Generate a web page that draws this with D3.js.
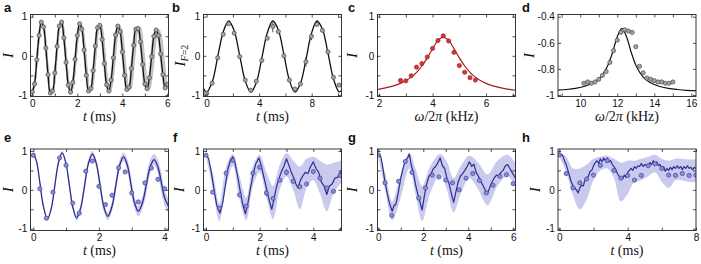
<!DOCTYPE html>
<html><head><meta charset="utf-8">
<script src="https://cdn.jsdelivr.net/npm/d3@7"></script>
<style>body{margin:0;background:#fff}</style>
</head><body>
<svg id="c" width="701" height="264"></svg>
<script>
// ---------------- DATA ----------------
// a: Ramsey-like oscillation (gray points, black line)
const aT=[0,0.1,0.2,0.3,0.4,0.5,0.6,0.7,0.8,0.9,1.0,1.1,1.2,1.3,1.4,1.5,1.6,1.7,1.8,1.9,2.0,2.1,2.2,2.3,2.4,2.5,2.6,2.7,2.8,2.9,3.0,3.1,3.2,3.3,3.4,3.5,3.6,3.7,3.8,3.9,4.0,4.1,4.2,4.3,4.4,4.5,4.6,4.7,4.8,4.9,5.0,5.1,5.2,5.3,5.4,5.5,5.6,5.7,5.8,5.9,6.0];
const aI=[-0.92,-0.72,-0.10,0.52,0.86,0.74,0.20,-0.48,-0.95,-0.90,-0.44,0.24,0.76,0.86,0.46,-0.17,-0.75,-0.93,-0.68,-0.09,0.52,0.82,0.68,0.15,-0.50,-0.90,-0.84,-0.38,0.25,0.72,0.78,0.42,-0.20,-0.74,-0.90,-0.62,-0.05,0.53,0.76,0.62,0.10,-0.50,-0.86,-0.80,-0.32,0.27,0.68,0.70,0.36,-0.22,-0.72,-0.84,-0.56,-0.02,0.50,0.66,0.52,0.05,-0.48,-0.82,-0.73];
const aSpread=[-0.004,0.004,0.008,0.012,0.016,0.02];
// b
const bT=[0,0.42,0.84,1.26,1.68,2.10,2.52,2.94,3.36,3.78,4.20,4.62,5.04,5.46,5.88,6.30,6.72,7.14,7.56,7.98,8.40,8.82,9.24,9.66,10.08];
const bI=[-0.96,-0.70,-0.05,0.55,0.82,0.58,-0.02,-0.62,-0.88,-0.65,-0.12,0.45,0.75,0.62,0.0,-0.62,-0.85,-0.72,-0.15,0.50,0.80,0.65,0.10,-0.55,-0.75];
const bErr=[0,0,0,0,0,0,0,0,0,0,0,0,0.15,0,0,0,0,0,0.12,0.1,0,0,0,0,0];
const bLineT=[-0.24,0,0.42,0.84,1.26,1.68,2.10,2.52,2.94,3.36,3.78,4.20,4.62,5.04,5.46,5.88,6.30,6.72,7.14,7.56,7.98,8.40,8.82,9.24,9.66,10.08,10.27];
const bLineI=[-0.84,-0.93,-0.67,-0.03,0.61,0.89,0.64,0.0,-0.64,-0.93,-0.69,-0.06,0.59,0.89,0.66,0.04,-0.62,-0.93,-0.71,-0.10,0.57,0.89,0.68,0.07,-0.59,-0.92,-0.89];
// c
const cW=[2.8,3.0,3.2,3.4,3.6,3.8,4.0,4.2,4.4,4.6,4.8,5.0,5.2,5.4,5.6];
const cI=[-0.63,-0.64,-0.51,-0.29,-0.20,-0.03,0.19,0.39,0.51,0.38,0.09,-0.25,-0.42,-0.56,-0.62];
const cLineW=[1.94,2.0,2.2,2.4,2.6,2.8,3.0,3.2,3.4,3.6,3.8,4.0,4.2,4.4,4.6,4.8,5.0,5.2,5.4,5.6,5.8,6.0,6.2,6.4,6.6,6.8,7.0,7.1];
const cLineI=[-0.86,-0.852,-0.827,-0.796,-0.756,-0.704,-0.636,-0.545,-0.422,-0.26,-0.053,0.184,0.393,0.48,0.393,0.184,-0.053,-0.26,-0.422,-0.545,-0.636,-0.704,-0.756,-0.796,-0.827,-0.852,-0.872,-0.881];
// d
const dW=[10.2,10.4,10.6,10.8,11.0,11.2,11.4,11.6,11.8,12.0,12.2,12.4,12.6,12.8,13.0,13.2,13.4,13.6,13.8,14.0,14.2,14.4,14.6,14.8,15.0];
const dI=[-0.91,-0.90,-0.91,-0.90,-0.88,-0.85,-0.82,-0.75,-0.66,-0.58,-0.52,-0.50,-0.51,-0.52,-0.63,-0.78,-0.83,-0.87,-0.88,-0.89,-0.90,-0.90,-0.91,-0.91,-0.90];
const dLineW=[8.8,9.25,9.75,10.25,10.75,11.0,11.25,11.5,11.75,12.0,12.25,12.5,12.75,13.0,13.25,13.5,13.75,14.25,14.75,15.25,15.75,16.25];
const dLineI=[-0.963,-0.958,-0.949,-0.933,-0.903,-0.876,-0.835,-0.770,-0.672,-0.553,-0.49,-0.553,-0.672,-0.770,-0.835,-0.876,-0.903,-0.933,-0.949,-0.958,-0.964,-0.967];
// e
const eT=[0,0.2,0.4,0.6,0.8,1.0,1.2,1.4,1.6,1.8,2.0,2.2,2.4,2.6,2.8,3.0,3.2,3.4,3.6,3.8,4.0];
const eI=[0.89,0.03,-0.73,-0.06,0.82,0.63,-0.34,-0.60,0.48,0.74,0.09,-0.38,-0.14,0.57,0.46,-0.08,-0.31,0.18,0.56,0.27,0.03];
const eLineT=[0,0.1,0.2,0.3,0.43,0.55,0.65,0.77,0.88,1.0,1.1,1.2,1.32,1.44,1.55,1.68,1.8,1.92,2.03,2.15,2.27,2.4,2.5,2.63,2.75,2.87,2.97,3.08,3.2,3.33,3.44,3.56,3.68,3.8,3.9,4.0,4.12];
const eLineI=[0.95,0.73,0.19,-0.39,-0.75,-0.47,0.07,0.71,0.95,0.66,0.115,-0.43,-0.72,-0.48,0.04,0.68,0.92,0.68,0.15,-0.44,-0.68,-0.42,0.035,0.63,0.85,0.62,0.17,-0.32,-0.55,-0.32,0.115,0.59,0.78,0.58,0.2,-0.2,-0.42];
const eBand=[0.02,0.03,0.05,0.04,0.04,0.05,0.08,0.06,0.05,0.07,0.10,0.08,0.07,0.09,0.13,0.10,0.08,0.11,0.16,0.12,0.10,0.13,0.18,0.14,0.11,0.15,0.21,0.15,0.13,0.16,0.23,0.17,0.14,0.18,0.26,0.19,0.19];
// f
const fT=[0,0.25,0.5,0.75,1.0,1.25,1.5,1.75,2.0,2.25,2.5,2.75,3.0,3.25,3.5,3.75,4.0,4.25,4.5,4.75,5.0];
const fI=[0.89,-0.06,-0.47,0.43,0.76,-0.13,-0.42,0.43,0.58,-0.08,-0.22,0.25,0.45,0.22,0.08,0.15,0.47,0.30,0.05,-0.04,0.37];
const fErr=[0,0,0,0,0,0,0,0,0,0.08,0,0,0.08,0,0,0,0,0,0,0,0];
const fLineT=[0,0.1,0.2,0.3,0.4,0.52,0.62,0.72,0.82,0.92,1.0,1.08,1.18,1.28,1.38,1.47,1.56,1.66,1.76,1.86,1.97,2.05,2.15,2.25,2.35,2.45,2.53,2.62,2.7,2.8,2.9,3.0,3.08,3.18,3.28,3.35,3.43,3.52,3.6,3.7,3.8,3.9,4.0,4.1,4.2,4.3,4.4,4.5,4.6,4.7,4.8,4.9,5.0,5.07];
const fLineI=[0.93,0.8,0.45,0.0,-0.4,-0.6,-0.35,0.1,0.55,0.78,0.85,0.7,0.35,-0.05,-0.4,-0.62,-0.35,0.05,0.42,0.68,0.82,0.65,0.35,0.05,-0.25,-0.5,-0.25,0.05,0.25,0.45,0.6,0.8,0.65,0.45,0.3,0.15,0.05,0.25,0.35,0.45,0.42,0.6,0.72,0.55,0.45,0.2,0.1,-0.12,0.1,0.15,0.3,0.32,0.45,0.5];
const fBandT=[0,0.25,0.5,0.75,1.0,1.25,1.5,1.75,2.0,2.25,2.5,2.75,3.0,3.25,3.5,3.75,4.0,4.25,4.5,4.75,5.0,5.07];
const fBandLo=[0.86,0.05,-0.8,0.1,0.62,-0.25,-0.78,0.1,0.45,-0.2,-0.75,0.0,0.35,0.0,-0.5,0.05,0.25,-0.1,-0.55,-0.1,0.15,0.2];
const fBandHi=[0.97,0.45,-0.35,0.6,0.92,0.35,-0.2,0.62,0.9,0.45,0.1,0.65,0.95,0.75,0.6,0.8,0.85,0.75,0.65,0.7,0.75,0.78];
// g
const gT=[0,0.3,0.6,0.9,1.2,1.5,1.8,2.1,2.4,2.7,3.0,3.3,3.6,3.9,4.2,4.5,4.8,5.1,5.4,5.7,6.0];
const gI=[0.90,0.18,-0.66,0.22,0.73,0.45,-0.21,0.05,0.38,0.33,0.25,0.18,0.0,0.30,0.42,0.24,-0.08,0.12,0.35,0.39,0.16];
const gLineT=[0,0.1,0.18,0.3,0.4,0.5,0.62,0.7,0.78,0.88,1.0,1.12,1.22,1.3,1.38,1.48,1.56,1.65,1.75,1.85,1.95,2.05,2.15,2.25,2.35,2.45,2.55,2.65,2.75,2.85,2.95,3.05,3.15,3.25,3.35,3.45,3.55,3.65,3.75,3.85,3.95,4.05,4.15,4.25,4.35,4.45,4.55,4.65,4.75,4.85,4.95,5.05,5.15,5.25,5.35,5.45,5.55,5.65,5.75,5.85,5.95,6.05,6.1];
const gLineI=[0.93,0.88,0.65,0.2,-0.1,-0.35,-0.55,-0.4,-0.38,-0.1,0.3,0.6,0.75,0.82,0.92,0.6,0.45,0.15,-0.1,-0.3,-0.52,-0.15,0.15,0.35,0.42,0.55,0.6,0.7,0.82,0.62,0.55,0.3,0.15,-0.1,-0.32,-0.05,0.2,0.35,0.42,0.5,0.6,0.72,0.6,0.66,0.45,0.35,0.22,0.12,0.0,-0.1,0.05,0.2,0.3,0.38,0.35,0.45,0.5,0.62,0.65,0.55,0.45,0.35,0.3];
const gBandT=[0,0.3,0.62,0.95,1.38,1.65,1.95,2.3,2.75,3.05,3.35,3.7,4.05,4.45,4.85,5.3,5.75,6.1];
const gBandLo=[0.87,0.0,-0.78,-0.3,0.55,-0.1,-0.8,-0.1,0.4,0.0,-0.58,-0.05,0.3,0.0,-0.4,0.1,0.35,0.05];
const gBandHi=[0.97,0.45,-0.3,0.3,0.95,0.55,0.1,0.6,0.92,0.72,0.3,0.65,0.88,0.7,0.4,0.75,0.9,0.68];
// h
const hT=[0,0.4,0.8,1.2,1.6,2.0,2.4,2.8,3.2,3.6,4.0,4.4,4.8,5.2,5.6,6.0,6.4,6.8,7.2,7.6,8.0];
const hI=[0.90,0.42,0.05,0.18,0.28,0.38,0.63,0.75,0.50,0.30,0.37,0.25,0.37,0.62,0.67,0.55,0.38,0.37,0.42,0.37,0.38];
const hLineT=[0,0.1,0.2,0.3,0.4,0.5,0.6,0.7,0.8,0.9,1.0,1.1,1.2,1.3,1.4,1.5,1.6,1.7,1.8,1.9,2.0,2.1,2.2,2.3,2.4,2.5,2.6,2.7,2.8,2.9,3.0,3.1,3.2,3.3,3.4,3.5,3.6,3.7,3.8,3.9,4.0,4.1,4.2,4.3,4.4,4.5,4.6,4.7,4.8,4.9,5.0,5.2,5.3,5.4,5.5,5.6,5.7,5.8,5.9,6.0,6.1,6.2,6.3,6.4,6.5,6.6,6.7,6.8,6.9,7.0,7.1,7.2,7.3,7.4,7.5,7.6,7.7,7.8,7.9,8.0];
const hLineI=[0.95,0.9,0.88,0.75,0.65,0.5,0.35,0.2,0.1,0.05,0.0,-0.08,0.05,0.12,0.1,0.25,0.3,0.35,0.48,0.5,0.62,0.7,0.75,0.68,0.8,0.72,0.82,0.75,0.82,0.72,0.75,0.65,0.6,0.52,0.42,0.35,0.3,0.28,0.38,0.32,0.45,0.5,0.55,0.5,0.6,0.55,0.62,0.6,0.68,0.6,0.65,0.62,0.7,0.65,0.75,0.68,0.72,0.62,0.65,0.55,0.6,0.48,0.55,0.5,0.58,0.52,0.6,0.55,0.62,0.55,0.6,0.52,0.6,0.55,0.62,0.55,0.58,0.52,0.58,0.55];
const hBandT=[0,0.4,0.8,1.2,1.6,2.0,2.4,2.8,3.2,3.6,4.0,4.4,4.8,5.2,5.6,6.0,6.4,6.8,7.2,7.6,8.0];
const hBandLo=[0.85,0.45,-0.15,-0.5,-0.25,0.25,0.5,0.55,0.3,-0.3,-0.1,0.2,0.25,0.35,0.45,0.2,0.05,0.25,0.25,0.2,0.2];
const hBandHi=[0.98,0.85,0.55,0.55,0.65,0.8,0.85,0.88,0.8,0.7,0.75,0.75,0.8,0.85,0.9,0.8,0.75,0.8,0.8,0.78,0.78];

// tick values
const ticksA={x:[0,2,4,6],xm:[1,3,5],y:[-1,0,1],ym:[-0.5,0.5]};
const ticksB={x:[0,4,8],xm:[2,6,10],y:[-1,0,1],ym:[-0.5,0.5]};
const ticksC={x:[2,4,6],xm:[3,5,7],y:[-1,0,1],ym:[-0.5,0.5]};
const ticksD={x:[10,12,14,16],xm:[9,11,13,15],y:[-1,-0.8,-0.6,-0.4],ym:[]};
const ticksE={x:[0,2,4],xm:[1,3],y:[-1,0,1],ym:[-0.5,0.5]};
const ticksF={x:[0,2,4],xm:[1,3,5],y:[-1,0,1],ym:[-0.5,0.5]};
const ticksG={x:[0,2,4,6],xm:[1,3,5],y:[-1,0,1],ym:[-0.5,0.5]};
const ticksH={x:[0,4,8],xm:[2,6],y:[-1,0,1],ym:[-0.5,0.5]};

// ---------------- DRAWING ----------------
const svg=d3.select('#c');
const TICKFONT='"Liberation Sans", Arial, Helvetica, sans-serif';
const SERIF='"Liberation Serif", "Times New Roman", serif';
const GRAY={fill:'#a3a3a3',stroke:'#4a4a4a'};
const RED={fill:'#d23a3a',stroke:'#9e1b1b'};
const BLUE={fill:'#8c8fd4',stroke:'#3b3e9e'};
const BLUELINE='#2c2f8c', BAND='#c9caee';

function panel(o){
  const x=d3.scaleLinear().domain(o.xd).range([o.x0,o.x1]);
  const y=d3.scaleLinear().domain(o.yd).range([o.y1,o.y0]);
  const cid='clip'+o.id;
  svg.append('clipPath').attr('id',cid).append('rect')
    .attr('x',o.x0).attr('y',o.y0).attr('width',o.x1-o.x0).attr('height',o.y1-o.y0);
  const g=svg.append('g');
  const plot=g.append('g').attr('clip-path',`url(#${cid})`);
  o.draw(plot,x,y);
  const t=o.ticks, fmt=d=>String(d);
  const ax=[
    [d3.axisBottom(x).tickValues(t.x).tickFormat(fmt),`translate(0,${o.y1})`],
    [d3.axisBottom(x).tickValues(t.xm).tickFormat(''),`translate(0,${o.y1})`],
    [d3.axisTop(x).tickValues(t.x.concat(t.xm)).tickFormat(''),`translate(0,${o.y0})`],
    [d3.axisLeft(y).tickValues(t.y).tickFormat(fmt),`translate(${o.x0},0)`],
    [d3.axisLeft(y).tickValues(t.ym).tickFormat(''),`translate(${o.x0},0)`],
    [d3.axisRight(y).tickValues(t.y.concat(t.ym)).tickFormat(''),`translate(${o.x1},0)`]
  ];
  ax.forEach(([a,tr])=>{
    const s=g.append('g').attr('transform',tr).call(a.tickSizeInner(-3).tickSizeOuter(0).tickPadding(3.2));
    s.select('.domain').remove();
    s.selectAll('line').attr('stroke','#222').attr('stroke-width',0.8);
    s.selectAll('text').attr('fill','#111').style('font-family',TICKFONT).style('font-size','10px');
  });
  g.append('rect').attr('x',o.x0).attr('y',o.y0).attr('width',o.x1-o.x0).attr('height',o.y1-o.y0)
    .attr('fill','none').attr('stroke','#222').attr('stroke-width',0.9);
  svg.append('text').attr('x',o.lx).attr('y',o.ly).text(o.id)
    .style('font-family',TICKFONT).style('font-weight','bold').style('font-size','13px').attr('fill','#111');
  const xl=svg.append('text').attr('x',(o.x0+o.x1)/2).attr('y',o.y1+24.5).attr('text-anchor','middle')
    .style('font-family',SERIF).style('font-size','14px').attr('fill','#111');
  if(o.xlab==='t'){
    xl.append('tspan').attr('font-style','italic').text('t');
    xl.append('tspan').text(' (ms)');
  } else {
    xl.append('tspan').attr('font-style','italic').text('ω');
    xl.append('tspan').text('/2');
    xl.append('tspan').attr('font-style','italic').text('π');
    xl.append('tspan').text(' (kHz)');
  }
  const yl=svg.append('text').attr('transform',`translate(${o.ylx},${(o.y0+o.y1)/2}) rotate(-90)`)
    .attr('text-anchor','middle').attr('dy','0.33em')
    .style('font-family',SERIF).style('font-size','15px').attr('fill','#111');
  yl.append('tspan').attr('font-style','italic').text('I');
  if(o.ysub){
    yl.append('tspan').attr('dy','0.3em').style('font-size','10px').attr('font-style','italic').text('F');
    yl.append('tspan').style('font-size','10px').text('=2');
  }
}

function dots(p,x,y,X,Y,c,r){
  p.selectAll(null).data(X).enter().append('circle')
   .attr('cx',(d)=>x(d)).attr('cy',(d,i)=>y(Y[i])).attr('r',r||2.1)
   .attr('fill',c.fill).attr('stroke',c.stroke).attr('stroke-width',0.7);
}
function errs(p,x,y,X,Y,E,col){
  X.forEach((d,i)=>{ if(E[i]>0) p.append('line').attr('x1',x(d)).attr('x2',x(d))
    .attr('y1',y(Y[i]-E[i])).attr('y2',y(Y[i]+E[i])).attr('stroke',col).attr('stroke-width',0.9);});
}
function line(p,x,y,X,Y,col,w,curve){
  const l=d3.line().x(d=>x(d)).y((d,i)=>y(Y[i])).curve(curve||d3.curveLinear);
  p.append('path').attr('d',l(X)).attr('fill','none').attr('stroke',col).attr('stroke-width',w||1.3)
   .attr('stroke-linejoin','round');
}
function band(p,x,y,X,Lo,Hi,curve){
  const a=d3.area().x(d=>x(d)).y0((d,i)=>y(Lo[i])).y1((d,i)=>y(Hi[i])).curve(curve||d3.curveLinear);
  p.append('path').attr('d',a(X)).attr('fill',BAND).attr('stroke','none');
}

const R1={y0:14.5,y1:96.5,yd:[-1.04,1.056]};
const R2={y0:149,y1:230.5,yd:[-1.046,1.051]};

panel({id:'a',x0:30.5,x1:168.5,y0:R1.y0,y1:R1.y1,xd:[-0.08,6.05],yd:R1.yd,ticks:ticksA,lx:4,ly:12,xlab:'t',ylx:8.5,
  draw:(p,x,y)=>{
    aSpread.forEach(s=>{
      const l=d3.line().x(d=>x(d*(1+s))).y((d,i)=>y(aI[i])).curve(d3.curveCatmullRom);
      p.append('path').attr('d',l(aT)).attr('fill','none').attr('stroke','#c2c2c2').attr('stroke-width',1.8);
    });
    line(p,x,y,aT,aI,'#111',1.3,d3.curveCatmullRom);
    dots(p,x,y,aT,aI,GRAY);
  }});
panel({id:'b',x0:203.5,x1:341.5,y0:R1.y0,y1:R1.y1,xd:[-0.24,10.27],yd:R1.yd,ticks:ticksB,lx:172,ly:12,xlab:'t',ylx:180,ysub:true,
  draw:(p,x,y)=>{
    line(p,x,y,bLineT,bLineI,'#111',1.3,d3.curveCatmullRom);
    errs(p,x,y,bT,bI,bErr,'#333');
    dots(p,x,y,bT,bI,GRAY);
  }});
panel({id:'c',x0:377.5,x1:515.5,y0:R1.y0,y1:R1.y1,xd:[1.94,7.1],yd:R1.yd,ticks:ticksC,lx:348,ly:12,xlab:'w',ylx:352,
  draw:(p,x,y)=>{
    line(p,x,y,cLineW,cLineI,'#a8191e',1.2,d3.curveCatmullRom);
    dots(p,x,y,cW,cI,RED);
  }});
panel({id:'d',x0:558,x1:696,y0:R1.y0,y1:R1.y1,xd:[8.8,16.25],yd:[-1.0115,-0.383],ticks:ticksD,lx:522,ly:12,xlab:'w',ylx:529,
  draw:(p,x,y)=>{
    line(p,x,y,dLineW,dLineI,'#111',1.2,d3.curveCatmullRom);
    dots(p,x,y,dW,dI,GRAY);
  }});
panel({id:'e',x0:30.5,x1:168.5,y0:R2.y0,y1:R2.y1,xd:[-0.085,4.12],yd:R2.yd,ticks:ticksE,lx:4,ly:142,xlab:'t',ylx:8.5,
  draw:(p,x,y)=>{
    band(p,x,y,eLineT,eLineI.map((v,i)=>v-eBand[i]),eLineI.map((v,i)=>v+eBand[i]),d3.curveCatmullRom);
    line(p,x,y,eLineT,eLineI,BLUELINE,1.3,d3.curveCatmullRom);
    dots(p,x,y,eT,eI,BLUE);
  }});
panel({id:'f',x0:203.5,x1:341.5,y0:R2.y0,y1:R2.y1,xd:[-0.093,5.05],yd:R2.yd,ticks:ticksF,lx:173,ly:142,xlab:'t',ylx:179,
  draw:(p,x,y)=>{
    band(p,x,y,fBandT,fBandLo,fBandHi,d3.curveCatmullRom);
    line(p,x,y,fLineT,fLineI,BLUELINE,1.2);
    errs(p,x,y,fT,fI,fErr,BLUELINE);
    dots(p,x,y,fT,fI,BLUE);
  }});
panel({id:'g',x0:377.5,x1:515.5,y0:R2.y0,y1:R2.y1,xd:[-0.035,6.1],yd:R2.yd,ticks:ticksG,lx:348,ly:142,xlab:'t',ylx:352,
  draw:(p,x,y)=>{
    band(p,x,y,gBandT,gBandLo,gBandHi,d3.curveCatmullRom);
    line(p,x,y,gLineT,gLineI,BLUELINE,1.2);
    dots(p,x,y,gT,gI,BLUE);
  }});
panel({id:'h',x0:558,x1:696,y0:R2.y0,y1:R2.y1,xd:[-0.08,8.0],yd:R2.yd,ticks:ticksH,lx:522,ly:142,xlab:'t',ylx:535,
  draw:(p,x,y)=>{
    band(p,x,y,hBandT,hBandLo,hBandHi,d3.curveCatmullRom);
    line(p,x,y,hLineT,hLineI,BLUELINE,1.2);
    dots(p,x,y,hT,hI,BLUE);
  }});
</script>
</body></html>
